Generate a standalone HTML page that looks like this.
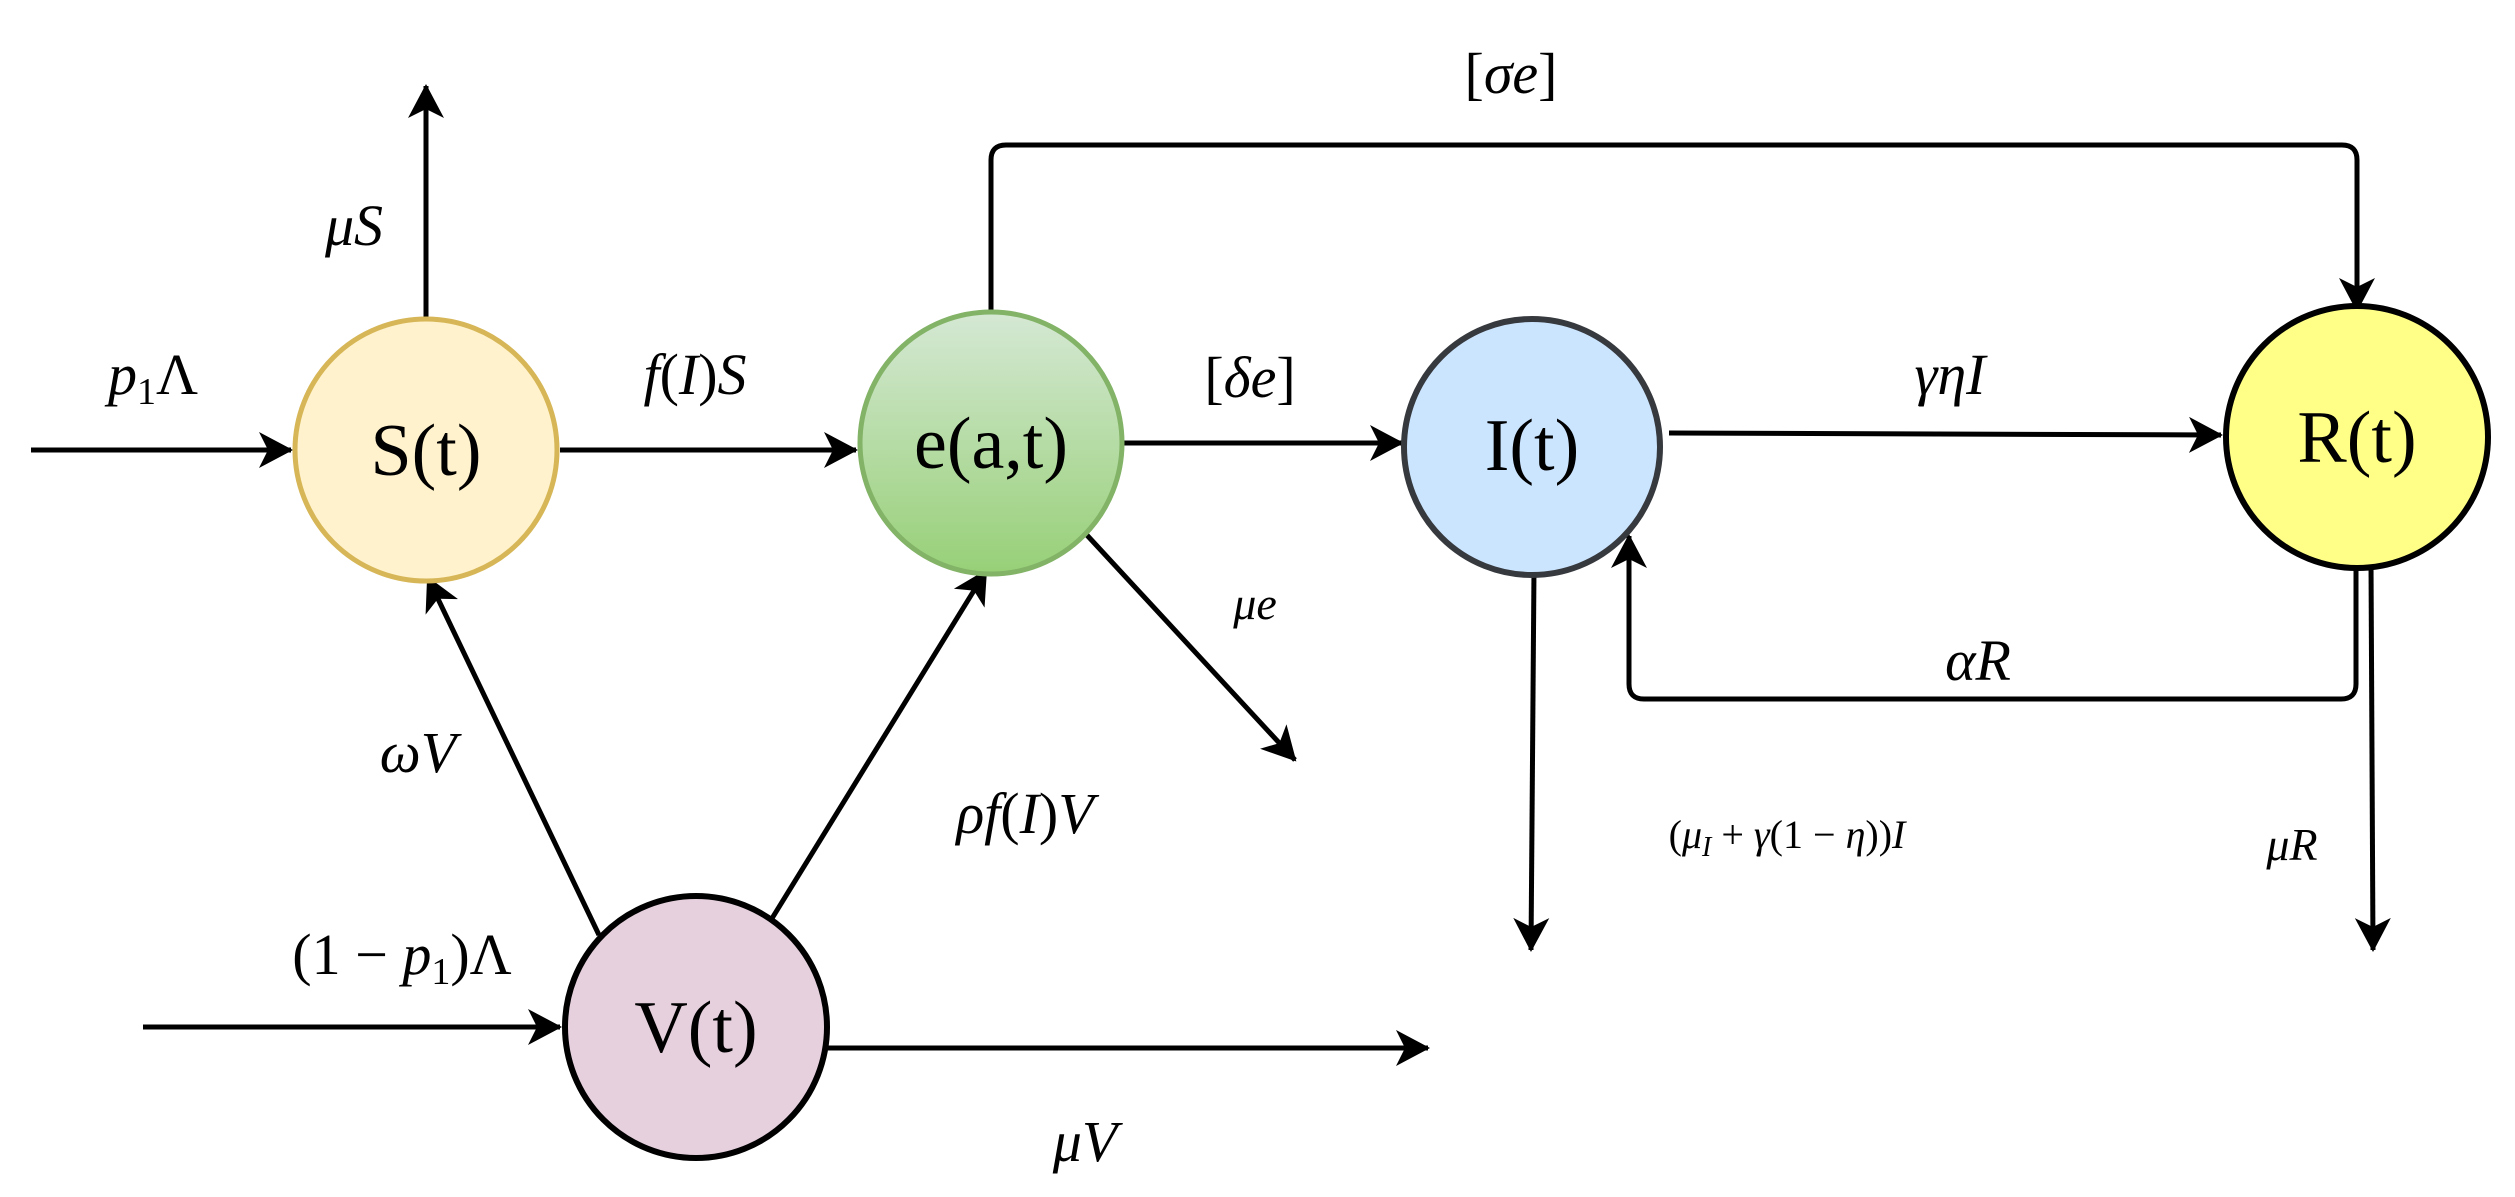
<!DOCTYPE html>
<html><head><meta charset="utf-8"><style>
html,body{margin:0;padding:0;background:#fff;}
svg{display:block;}
.n{font-family:"Liberation Serif",serif;font-size:74px;fill:#000;}
.m{font-family:"Liberation Serif",serif;font-style:italic;font-size:58px;fill:#000;}
.r{font-style:normal;}
</style></head><body>
<svg width="2515" height="1197" viewBox="0 0 2515 1197" xmlns="http://www.w3.org/2000/svg">
<defs>
<marker id="a" markerUnits="userSpaceOnUse" markerWidth="40" markerHeight="40" refX="32" refY="20" orient="auto">
<path d="M0,2 L34,20 L0,38 L9,20 Z" fill="#000"/>
</marker>
<linearGradient id="g" x1="0" y1="0" x2="0" y2="1">
<stop offset="0" stop-color="#d5e8d4"/><stop offset="1" stop-color="#97d077"/>
</linearGradient>
</defs>
<g stroke="#000" stroke-width="5" fill="none">
<line x1="426" y1="317" x2="426" y2="86" marker-end="url(#a)"/>
<line x1="31" y1="450" x2="291" y2="450" marker-end="url(#a)"/>
<line x1="560" y1="450" x2="856" y2="450" marker-end="url(#a)"/>
<line x1="143" y1="1027" x2="560" y2="1027" marker-end="url(#a)"/>
<line x1="599" y1="935" x2="428" y2="578" marker-end="url(#a)"/>
<line x1="771" y1="920" x2="986" y2="571" marker-end="url(#a)"/>
<line x1="1085" y1="533" x2="1295" y2="760" marker-end="url(#a)"/>
<line x1="828" y1="1048" x2="1428" y2="1048" marker-end="url(#a)"/>
<path d="M991,310 L991,160 Q991,145 1006,145 L2342,145 Q2357,145 2357,160 L2357,310" marker-end="url(#a)"/>
<line x1="1124" y1="443" x2="1402" y2="443" marker-end="url(#a)"/>
<line x1="1669" y1="433" x2="2221" y2="435" marker-end="url(#a)"/>
<path d="M2356,562 L2356,684 Q2356,699 2341,699 L1644,699 Q1629,699 1629,684 L1629,536" marker-end="url(#a)"/>
<line x1="1534" y1="569" x2="1531" y2="950" marker-end="url(#a)"/>
<line x1="2371" y1="562" x2="2373" y2="950" marker-end="url(#a)"/>
</g>
<circle cx="426" cy="450" r="131" fill="#fff2cc" stroke="#d6b656" stroke-width="5"/>
<circle cx="991" cy="443" r="131" fill="url(#g)" stroke="#82b366" stroke-width="5"/>
<circle cx="696" cy="1027" r="131" fill="#e6d0de" stroke="#000" stroke-width="6"/>
<circle cx="1532" cy="447" r="128" fill="#cce5ff" stroke="#36393d" stroke-width="6"/>
<circle cx="2357" cy="437" r="131" fill="#ffff88" stroke="#000" stroke-width="6"/>
<g class="n" text-anchor="middle">
<text x="426" y="475">S(t)</text>
<text x="991" y="468">e(a,t)</text>
<text x="696" y="1052">V(t)</text>
<text x="1532" y="470">I(t)</text>
<text x="2357" y="462">R(t)</text>
</g>
<g class="m" text-anchor="middle">
<text x="354" y="245">μS</text>
<text x="153" y="394">p<tspan font-size="38" dy="10" class="r">1</tspan><tspan dy="-10" class="r">Λ</tspan></text>
<text x="695" y="394">f<tspan class="r">(</tspan>I<tspan class="r">)</tspan>S</text>
<text x="402" y="974"><tspan class="r">(1 − </tspan>p<tspan font-size="38" dy="10" class="r">1</tspan><tspan dy="-10" class="r">)Λ</tspan></text>
<text x="418" y="772">ωV</text>
<text x="1025" y="833">ρf<tspan class="r">(</tspan>I<tspan class="r">)</tspan>V</text>
<text x="1255" y="619" font-size="46">μe</text>
<text x="1085" y="1161">μV</text>
<text x="1511" y="93"><tspan class="r">[</tspan>σe<tspan class="r">]</tspan></text>
<text x="1250" y="397"><tspan class="r">[</tspan>δe<tspan class="r">]</tspan></text>
<text x="1950" y="394">γηI</text>
<text x="1978" y="680">αR</text>
<text x="2292" y="860" font-size="46">μR</text>
<text x="1787" y="848" font-size="40"><tspan class="r">(</tspan>μ<tspan font-size="28" dy="8">I</tspan><tspan dy="-8" class="r"> + </tspan>γ<tspan class="r">(1 − </tspan>η<tspan class="r">))</tspan>I</text>
</g>
</svg>
</body></html>
